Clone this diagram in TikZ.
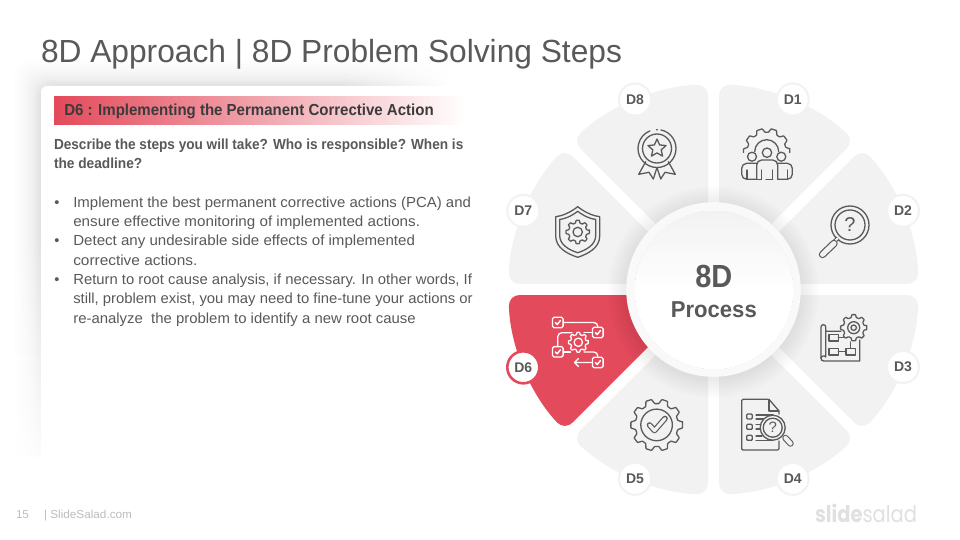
\documentclass[tikz,border=0pt]{standalone}
\usepackage{fontspec}
\usepackage{graphicx}
\setmainfont{Liberation Sans}
\newfontfamily\logofont{Poppins}
\usetikzlibrary{fadings}
\definecolor{redseg}{HTML}{E34A5B}
\definecolor{seggray}{HTML}{F2F2F2}
\definecolor{ringgray}{HTML}{F9F9F9}
\definecolor{icongray}{HTML}{5A5A5A}
\definecolor{txtgray}{HTML}{595959}
\definecolor{hdrgray}{HTML}{3B3B3B}
\definecolor{footgray}{HTML}{BDBDBD}
\definecolor{logogray}{HTML}{E0E0E0}
\newcommand{\fitw}[2]{\resizebox{#1pt}{\height}{#2}}
\newcommand{\fs}[1]{\fontsize{#1}{#1}\selectfont}
\tikzset{
  txt/.style={anchor=base west,inner sep=0pt,outer sep=0pt,text=txtgray,font=\fs{14.6}},
  boldtxt/.style={txt,font=\fs{14.6}\bfseries},
  midtxt/.style={anchor=base,inner sep=0pt,outer sep=0pt,text=txtgray,font=\bfseries},
  badge/.style={circle,minimum size=32pt,inner sep=0pt,fill=white,draw=#1,line width=2pt,text=txtgray,font=\fs{14}\bfseries},
  ico/.style={draw=icongray,line width=1.3pt,line join=round,line cap=round},
  icw/.style={draw=white,line width=1.3pt,line join=round,line cap=round},
}
\newcommand{\wedgeseg}[2]{%
  \fill[#2,rounded corners=11pt] ({#1+22.5}:14.4) -- ({#1+1.54}:205)
    arc[start angle={#1+1.54},end angle={#1+43.46},radius=205] -- cycle;}
\newcommand{\mygear}[7]{% x,y,ro,ri,n,toothhalf,style
  \begin{scope}[shift={(#1,#2)}]
    \pgfmathsetmacro\gst{360/#5}
    \draw[#7,rounded corners=.5pt] ({-#6}:#3)
      \foreach \i in {1,...,#5}{
        -- ({(\i-1)*\gst+#6}:#3) -- ({(\i-1)*\gst+#6+6}:#4)
        -- ({\i*\gst-#6-6}:#4) -- ({\i*\gst-#6}:#3)
      } -- cycle;
  \end{scope}}
\newcommand{\ckbox}[2]{%
  \draw[icw,rounded corners=1.5pt] (#1-5.3,#2-5.2) rectangle (#1+5.3,#2+5.2);
  \draw[icw,line width=1.5pt] (#1-2.4,#2+0.2) -- (#1-0.6,#2+2) -- (#1+2.6,#2-2);}
\newcommand{\shieldp}{(0,-25.3) .. controls (-8,-19) and (-16,-16) .. (-22,-15.3) -- (-22,4)
  .. controls (-22,16) and (-10,22) .. (0,25.3) .. controls (10,22) and (22,16) .. (22,4)
  -- (22,-15.3) .. controls (16,-16) and (8,-19) .. (0,-25.3) -- cycle}
\begin{document}
\begin{tikzpicture}[x=1pt,y=-1pt]
\useasboundingbox (0,0) rectangle (960,540);
\fill[white] (0,0) rectangle (960,540);
% panel shadow
\foreach \k in {1,2,3,4,5,6,7,8,10,12,14,16,19,22,26}{
  \fill[black,opacity=.0065,rounded corners=16pt] (41-\k,86-\k) rectangle (520,500);
}
\fill[white,rounded corners=6pt] (41,86) rectangle (540,520);
\fill[white,path fading=north] (0,230) rectangle (41,480);
\fill[white] (0,457) rectangle (540,520);
\fill[white,path fading=west] (340,50) rectangle (450,87);
\fill[white] (449,50) rectangle (540,87);
\fill[white] (470,50) rectangle (540,520);
% title
\node[txt,font=\fs{32}] (title) at (41,63) {\fitw{581}{8D Approach | 8D Problem Solving Steps}};
% header bar
\fill[left color=redseg,right color=white] (54,97) rectangle (466,125);
\node[boldtxt,text=hdrgray,font=\fs{16}\bfseries] (head) at (64.3,116) {\fitw{369.4}{D6 : Implementing the Permanent Corrective Action}};
\node[boldtxt] (q1) at (54,149.3) {\fitw{409.3}{Describe the steps you will take? Who is responsible? When is}};
\node[boldtxt] (q2) at (54,168.3) {\fitw{88.3}{the deadline?}};
\node[txt] (b1) at (54.3,207.7) {•};
\node[txt] (b2) at (54.3,245.7) {•};
\node[txt] (b3) at (54.3,284.3) {•};
\node[txt] (l1) at (73.3,207.7) {\fitw{397.7}{Implement the best permanent corrective actions (PCA) and}};
\node[txt] (l2) at (73.3,226.7) {\fitw{346.7}{ensure effective monitoring of implemented actions.}};
\node[txt] (l3) at (73.3,245.7) {\fitw{341.7}{Detect any undesirable side effects of implemented}};
\node[txt] (l4) at (73.3,265.7) {\fitw{124}{corrective actions.}};
\node[txt] (l5) at (73.3,284.3) {\fitw{398.7}{Return to root cause analysis, if necessary. In other words, If}};
\node[txt] (l6) at (73.3,303.7) {\fitw{399.4}{still, problem exist, you may need to fine-tune your actions or}};
\node[txt] (l7) at (73.3,323.7) {\fitw{342.4}{re-analyze\ \ the problem to identify a new root cause}};
% wheel
\begin{scope}[shift={(713.5,289.5)}]
  \wedgeseg{-90}{seggray}
  \wedgeseg{-45}{seggray}
  \wedgeseg{0}{seggray}
  \wedgeseg{45}{seggray}
  \wedgeseg{90}{seggray}
  \wedgeseg{135}{redseg}
  \wedgeseg{180}{seggray}
  \wedgeseg{225}{seggray}
\end{scope}
% centre
\foreach \r in {88,90,...,106}{
  \fill[black,opacity=.007] (713.5,292) circle[radius=\r];
}
\fill[ringgray] (713.5,289.5) circle[radius=87.3];
\fill[top color=seggray,bottom color=white,middle color=white!98!seggray] (714,290) circle[radius=79.5];
\draw[ringgray,line width=2pt] (714,290) circle[radius=80.2];
\node[midtxt,font=\fs{32}\bfseries] (c8d) at (713.8,287) {\fitw{37}{8D}};
\node[midtxt,font=\fs{23}\bfseries] (cproc) at (713.8,317) {\fitw{86}{Process}};
% D8 badge icon
\begin{scope}[shift={(657,148.5)}]
  \draw[ico] (-78:19) arc[start angle=-78,end angle=248,radius=19];
  \draw[ico] (-90:19) -- (-90:18.6);
  \draw[ico] (0,0) circle[radius=14.5];
  \draw[ico] (-90:9.5) \foreach \i in {1,...,9}{ -- ({-90+36*\i}:{mod(\i,2)==0?9.5:4.4}) } -- cycle;
  \draw[ico] (-11.3,13.2) -- (-18.3,25.8) -- (-8,23.8) -- (-3.7,30.5) -- (0,19) -- (3.7,30.5) -- (8,23.8) -- (18.3,25.8) -- (11.3,13.2);
\end{scope}
% D7 shield icon
\begin{scope}[shift={(577.7,232)}]
  \draw[ico] \shieldp;
  \begin{scope}[scale=.82]
    \draw[ico] \shieldp;
  \end{scope}
  \draw[ico] (0,0) circle[radius=4.7];
\end{scope}
\mygear{577.7}{232}{11.8}{9.2}{8}{8}{ico}
% D1 team icon
\begin{scope}
  \clip (735,120) rectangle (800,153);
  \mygear{766.7}{151.7}{23.3}{19.5}{10}{7}{ico}
\end{scope}
\draw[ico] (754.7,151.7) arc[start angle=180,end angle=360,radius=12];
\draw[ico] (767,152.7) circle[radius=4.7];
\draw[ico] (752,156.7) circle[radius=4.5];
\draw[ico] (781.3,156.7) circle[radius=4.5];
\draw[ico,rounded corners=5pt] (756.7,179.3) -- (756.7,160) -- (777.7,160) -- (777.7,179.3);
\draw[ico,rounded corners=5pt] (756.7,163.3) -- (741.7,163.3) -- (741.7,179.3) -- (756.7,179.3);
\draw[ico,rounded corners=5pt] (777.7,163.3) -- (792.3,163.3) -- (792.3,179.3) -- (777.7,179.3);
\draw[ico] (761.5,179.3) -- (761.5,170) (772.7,179.3) -- (772.7,170) (756.7,179.3) -- (761.5,179.3) (766,179.3) -- (772.7,179.3);
\draw[ico] (747,179.3) -- (747,170) (787.5,179.3) -- (787.5,170);
% D2 magnifier
\draw[ico] (850,225) circle[radius=19];
\draw[ico] (850,225) circle[radius=15];
\node[midtxt,font=\fs{20},anchor=center] (q2i) at (850,225) {?};
\draw[icongray,line width=4.2pt] (838,238) -- (833.5,242.5);
\draw[seggray,line width=2pt] (838,238) -- (833.5,242.5);
\draw[icongray,line width=7.4pt,line cap=round] (834,243.5) -- (822.5,254.5);
\draw[seggray,line width=5pt,line cap=round] (834,243.5) -- (822.5,254.5);
% D3 blueprint
\draw[ico] (841,331.2) -- (825.7,331.2) (825.7,357) -- (825.7,327) arc[start angle=0,end angle=-180,radius=2.35] -- (821,358);
\draw[ico] (821,358) .. controls (821,355.5) and (825.7,355.5) .. (825.7,357);
\draw[ico] (821,358) .. controls (821,360) and (822,361) .. (824,361) -- (859.7,361) -- (859.7,340);
\draw[ico] (829,334.3) rectangle (838.3,341);
\draw[ico] (829,348.3) rectangle (838.3,355);
\draw[ico] (846,348.3) rectangle (855.7,355);
\draw[ico] (838.3,351.7) -- (846,351.7) (850.7,348.3) -- (850.7,342) (838.3,337.5) -- (843.5,337.5);
\mygear{853.7}{327.7}{13.2}{10.5}{8}{8}{ico}
\draw[ico] (853.7,327.7) circle[radius=6];
\draw[ico] (853.7,327.7) circle[radius=2.7];
% D4 document
\draw[ico,rounded corners=1.2pt] (779,414) -- (779,411) -- (769,399.3) -- (741.7,399.3) -- (741.7,450) -- (779,450) -- (779,441);
\draw[ico] (769,399.3) -- (769,411) -- (779,411);
\draw[ico,rounded corners=1pt] (746.7,414) rectangle (752.3,419);
\draw[ico,rounded corners=1pt] (746.7,424.3) rectangle (752.3,429.3);
\draw[ico,rounded corners=1pt] (746.7,435.3) rectangle (752.3,440.3);
\draw[ico] (756,415) -- (773,415) (756,419) -- (764,419) (756,424.5) -- (760,424.5) (756,429) -- (760,429) (756,436) -- (762,436) (756,440.5) -- (772,440.5);
\draw[ico,fill=seggray] (772.7,427.7) circle[radius=12.5];
\draw[ico] (772.7,427.7) circle[radius=9.5];
\node[midtxt,font=\fs{15},anchor=center] (q4i) at (772.7,427.7) {?};
\draw[icongray,line width=6.4pt,line cap=round] (785.5,438) -- (790.5,443.5);
\draw[seggray,line width=4.2pt,line cap=round] (785.5,438) -- (790.5,443.5);
% D5 gear check
\mygear{656.7}{425}{26}{21.5}{10}{6.5}{ico}
\draw[ico] (663,410.5) arc[start angle=-66,end angle=294,radius=15.8];
\draw[icongray,line width=5.6pt,line join=round,line cap=round] (649.5,425) -- (654.5,430.5) -- (665,418.5);
\draw[seggray,line width=3.2pt,line join=round,line cap=round] (649.5,425) -- (654.5,430.5) -- (665,418.5);
% D6 flow icon
\mygear{578.3}{342.3}{10}{7.8}{8}{8}{icw}
\draw[icw] (578.3,342.3) circle[radius=4.2];
\ckbox{557.8}{322.5}
\ckbox{597.8}{332.5}
\ckbox{557.8}{351.8}
\ckbox{597.8}{362.5}
\draw[icw,rounded corners=4pt] (563.3,322.5) -- (597.8,322.5) -- (597.8,327.3);
\draw[icw] (592.5,332.5) -- (584,332.5);
\draw[icw,rounded corners=4pt] (557.8,346.6) -- (557.8,332.7) -- (572,332.7);
\draw[icw] (563.3,352) -- (570.5,352);
\draw[icw,rounded corners=4pt] (584,352) -- (597.8,352) -- (597.8,357.3);
\draw[icw] (592.5,362.5) -- (574.5,362.5) (578.5,358.5) -- (574.5,362.5) -- (578.5,366.5);
% badges
\node[badge=seggray] (d1) at (792.7,99.5) {D1};
\node[badge=seggray] (d2) at (903,210.8) {D2};
\node[badge=seggray] (d3) at (903,367) {D3};
\node[badge=seggray] (d4) at (792.7,478.8) {D4};
\node[badge=seggray] (d5) at (635,478.8) {D5};
\node[badge=redseg,line width=2.6pt] (d6) at (523.3,367.3) {D6};
\node[badge=seggray] (d7) at (523.3,210.8) {D7};
\node[badge=seggray] (d8) at (635,99.5) {D8};
% footer
\node[txt,text=footgray,font=\fs{11.5}] (pg) at (16,518) {\fitw{13}{15}};
\node[txt,text=footgray,font=\fs{11.5}] (site) at (44,518) {\fitw{88}{| SlideSalad.com}};
\node[txt,text=logogray,font=\logofont\fs{23}] (logo) at (815,522) {\fitw{102}{\textbf{slide}salad}};
\end{tikzpicture}
\end{document}
